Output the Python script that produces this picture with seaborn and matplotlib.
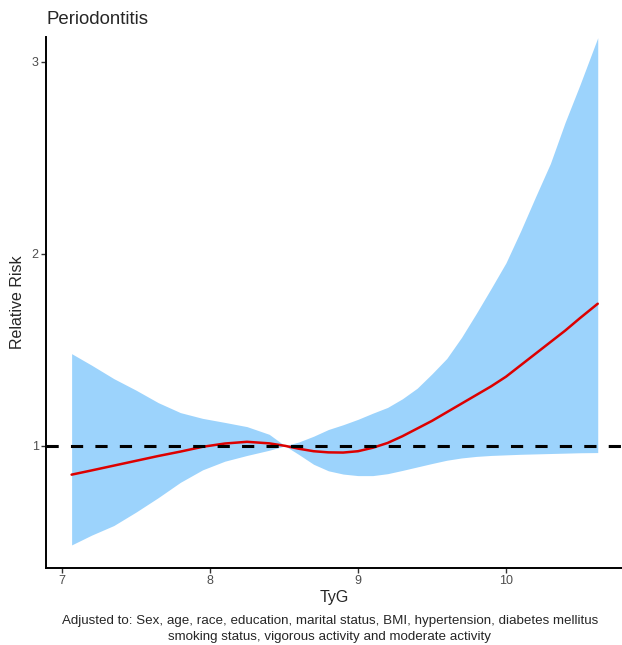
import numpy as np
import pandas as pd
import matplotlib
matplotlib.use("Agg")
import matplotlib.pyplot as plt
import seaborn as sns

# TyG grid
tyg = [7.065, 7.2, 7.35, 7.5, 7.65, 7.8, 7.95, 8.1, 8.25, 8.4, 8.507,
       8.6, 8.7, 8.8, 8.9, 9.0, 9.1, 9.2, 9.3, 9.4, 9.5, 9.6, 9.7, 9.8,
       9.9, 10.0, 10.1, 10.2, 10.3, 10.4, 10.5, 10.62]

# relative risk (spline fit)
rr = [0.85, 0.872, 0.897, 0.922, 0.947, 0.97, 0.995, 1.012, 1.021, 1.013, 1.0,
      0.985, 0.972, 0.966, 0.965, 0.972, 0.99, 1.015, 1.05, 1.09, 1.13, 1.175,
      1.22, 1.265, 1.31, 1.36, 1.42, 1.48, 1.54, 1.60, 1.665, 1.74]

# 95% CI
rr_upper = [1.48, 1.42, 1.35, 1.29, 1.225, 1.173, 1.143, 1.122, 1.10, 1.06, 1.0,
            1.02, 1.05, 1.085, 1.11, 1.138, 1.17, 1.20, 1.245, 1.30, 1.375, 1.455,
            1.565, 1.69, 1.82, 1.953, 2.12, 2.297, 2.47, 2.685, 2.88, 3.125]
rr_lower = [0.484, 0.535, 0.585, 0.655, 0.73, 0.81, 0.875, 0.92, 0.95, 0.977, 1.0,
            0.955, 0.904, 0.87, 0.853, 0.845, 0.845, 0.855, 0.872, 0.89, 0.908, 0.925,
            0.937, 0.945, 0.95, 0.953, 0.956, 0.958, 0.96, 0.962, 0.964, 0.965]

x_ticks = [7, 8, 9, 10]
y_ticks = [1, 2, 3]

TITLE = "Periodontitis"
CAPTION = ("Adjusted to: Sex, age, race, education, marital status, BMI, hypertension, diabetes mellitus\n"
           "smoking status, vigorous activity and moderate activity")

df = pd.DataFrame({"TyG": tyg, "RR": rr, "lower": rr_lower, "upper": rr_upper})

sns.set_theme(style="ticks")
plt.rcParams["font.family"] = ["Liberation Sans", "DejaVu Sans"]

fig = plt.figure(figsize=(6.22, 6.45), dpi=100)
ax = fig.add_axes([0.0735, 0.12, 0.9265, 0.823])

ax.fill_between(df["TyG"], df["lower"], df["upper"], color="#9CD3FC", linewidth=0, zorder=1)
sns.lineplot(data=df, x="TyG", y="RR", color="#DD0000", linewidth=1.8, ax=ax, zorder=3)
ref = ax.axhline(1, color="black", linewidth=2.2, zorder=4)
ref.set_dashes((4, 4))

ax.set_xlim(6.89, 10.784)
ax.set_ylim(0.366, 3.13)
ax.set_xticks(x_ticks)
ax.set_yticks(y_ticks)
ax.tick_params(axis="both", labelsize=9, labelcolor="#4d4d4d", color="#333333",
               length=3.5, width=1, pad=1.5)

sns.despine(ax=ax)
for side in ["left", "bottom"]:
    ax.spines[side].set_linewidth(1.4)
    ax.spines[side].set_color("black")

ax.set_xlabel("TyG", fontsize=11.5, labelpad=2.5)
ax.set_ylabel("Relative Risk", fontsize=11.5)
ax.yaxis.set_label_coords(-0.036, 0.5)

fig.text(46 / 622, 1 - 20 / 645, TITLE, fontsize=13.4, ha="left", va="center")
fig.text(330 / 622, 1 - 629 / 645, CAPTION, fontsize=9.6, ha="center", va="center",
         linespacing=1.45)

fig.savefig("out.png", dpi=100)
